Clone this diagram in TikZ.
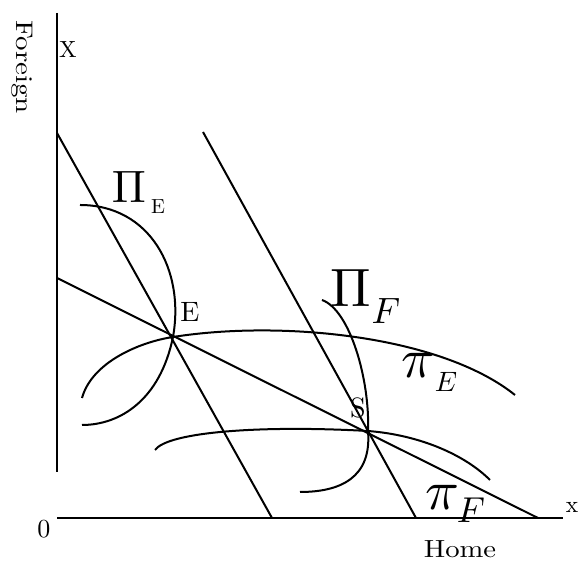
\documentclass[tikz,border=0pt]{standalone}
\begin{document}
\begin{tikzpicture}[x=0.5pt,y=-0.5pt,
  curve/.style={line width=1pt},
  axis/.style={line width=1pt},
  lbl/.style={inner sep=0pt},
  gl/.style={inner sep=0pt}]
\useasboundingbox (0,0) rectangle (580,565);
% axes
\coordinate (Otop) at (57,13);
\coordinate (Obot) at (57,472);
\coordinate (O) at (57,518);
\coordinate (Xend) at (563,518);
\draw[axis] (Otop) -- (Obot);
\draw[axis] (O) -- (Xend);
% key points
\coordinate (E) at (173,337);
\coordinate (S) at (368,431);
% lines
\coordinate (A1) at (57,133);
\coordinate (A2) at (272,518);
\coordinate (B1) at (57,278);
\coordinate (B2) at (538,518);
\coordinate (C1) at (203,132);
\coordinate (C2) at (416,518);
\draw[curve] (A1) -- (A2);
\draw[curve] (B1) -- (B2);
\draw[curve] (C1) -- (C2);
% Pi_E
\draw[curve] (80,205) .. controls (150,205) and (185,270) .. (E)
  .. controls (160,400) and (120,425) .. (82,425);
% pi_E
\draw[curve] (82,398) .. controls (92,362) and (140,342) .. (E)
  .. controls (280,320) and (440,335) .. (515,395);
% Pi_F
\draw[curve] (322,300) .. controls (350,310) and (370,380) .. (S)
  .. controls (372,478) and (340,492) .. (300,492);
% pi_F
\draw[curve] (155,450) .. controls (168,432) and (260,425) .. (S)
  .. controls (420,435) and (465,455) .. (490,480);
% labels
\node[lbl] (lX) at (68,50) {\scalebox{1.17}{X}};
\node[lbl] (lx) at (572,507) {\scalebox{1.17}{x}};
\node[lbl] (l0) at (44,529) {\scalebox{1.3}{0}};
\node[lbl] (lHome) at (460,549) {\scalebox{1.43}[1.24]{Home}};
\node[lbl,rotate=-90] (lForeign) at (22,67) {\scalebox{1.45}[1.2]{Foreign}};
\node[lbl] (lE) at (190,312) {\scalebox{1.4}{E}};
\node[lbl] (lS) at (358,408) {\scalebox{1.4}{S}};
% Pi_E
\node[gl] (PiE) at (129,187) {\scalebox{2.27}{$\Pi$}};
\node[gl] (PiEsub) at (158,207) {\scalebox{1.02}{E}};
% Pi_F
\node[gl] (PiF) at (351,288) {\scalebox{2.7}{$\Pi$}};
\node[gl] (PiFsub) at (386,311) {\scalebox{1.83}{$F$}};
% pi_E
\node[gl] (piE) at (418,365) {\scalebox{2.8}{$\pi$}};
\node[gl] (piEsub) at (446,382) {\scalebox{1.4}{$E$}};
% pi_F
\node[gl] (piF) at (442,497) {\scalebox{2.8}{$\pi$}};
\node[gl] (piFsub) at (471,510) {\scalebox{1.8}{$F$}};
\end{tikzpicture}
\end{document}
